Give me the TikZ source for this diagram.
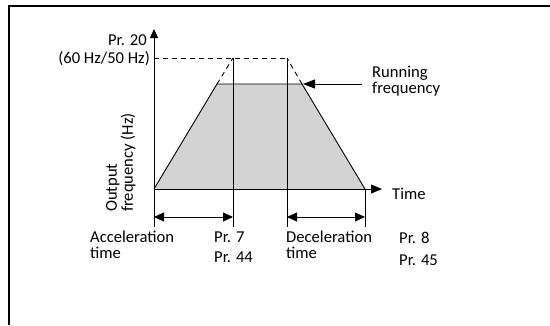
\documentclass[tikz,border=0pt]{standalone}
\usepackage{fontspec}
\setmainfont{Carlito}
\usetikzlibrary{arrows.meta}
\definecolor{fillgray}{RGB}{211,211,212}
\begin{document}
\begin{tikzpicture}[x=1pt,y=-1pt,
  font=\fontsize{16.6}{16}\selectfont,
  thin/.style={line width=0.9pt},
  tipend/.style={thin,-{Triangle[length=11pt,width=9pt]}},
  dimarrow/.style={thin,{Triangle[length=10pt,width=9pt]}-{Triangle[length=10pt,width=9pt]}},
  dashline/.style={thin,dash pattern=on 5pt off 4pt},
  lbl/.style={inner sep=0pt,align=left,anchor=north west}]
\useasboundingbox (0,0) rectangle (550,325);
% frame
\coordinate (fb) at (9,325);
\coordinate (fc) at (9,6);
\coordinate (fr) at (550,6);
\draw[line width=2.2pt,line join=miter] (fb) -- (fc) -- (fr);
% key points
\coordinate (O) at (154,189);
\coordinate (Ybot) at (154,227);
\coordinate (Ytop) at (154,29);
\coordinate (Xend) at (382,189);
\coordinate (A) at (217,84);
\coordinate (B) at (302,84);
\coordinate (C) at (365,189);
\coordinate (Cbot) at (365,227);
\coordinate (P) at (233,58);
\coordinate (Q) at (287,58);
\coordinate (Pbot) at (233,227);
\coordinate (Qbot) at (287,227);
\coordinate (D0) at (154,58);
\coordinate (R0) at (362,84);
\coordinate (Rt) at (303,84);
\coordinate (L1) at (154,217);
\coordinate (L2) at (233,217);
\coordinate (L3) at (287,217);
\coordinate (L4) at (365,217);
% trapezoid
\fill[fillgray] (O) -- (A) -- (B) -- (C) -- cycle;
\draw[thin] (O) -- (A) -- (B) -- (C);
% dashed
\draw[dashline] (D0) -- (Q);
\draw[dashline] (A) -- (P);
\draw[dashline] (B) -- (Q);
% verticals
\draw[thin] (P) -- (Pbot);
\draw[thin] (Q) -- (Qbot);
\draw[thin] (C) -- (Cbot);
% axes
\draw[thin,-{Triangle[length=9pt,width=8pt]}] (Ybot) -- (Ytop);
\draw[tipend] (O) -- (Xend);
% dimension arrows
\draw[dimarrow] (L1) -- (L2);
\draw[dimarrow] (L3) -- (L4);
% running frequency arrow
\draw[thin,-{Triangle[length=12pt,width=9pt]}] (R0) -- (Rt);
% labels
\node[inner sep=0pt,anchor=north east] (pr20) at (147,35) {Pr. 20};
\node[inner sep=0pt,anchor=north east] (hz) at (150,51) {(60 Hz/50 Hz)};
\node[lbl,rotate=90] (ylab) at (106,212) {Output\\frequency (Hz)};
\node[lbl] (run) at (372,66) {Running\\frequency};
\node[lbl] (time) at (392,188) {Time};
\node[lbl] (acc) at (90,231) {Acceleration\\time};
\node[lbl] (pr7) at (214,232) {Pr. 7\\[4pt]Pr. 44};
\node[lbl] (dec) at (286,231) {Deceleration\\time};
\node[lbl] (pr8) at (399,232) {Pr. 8\\[6pt]Pr. 45};
\end{tikzpicture}
\end{document}
